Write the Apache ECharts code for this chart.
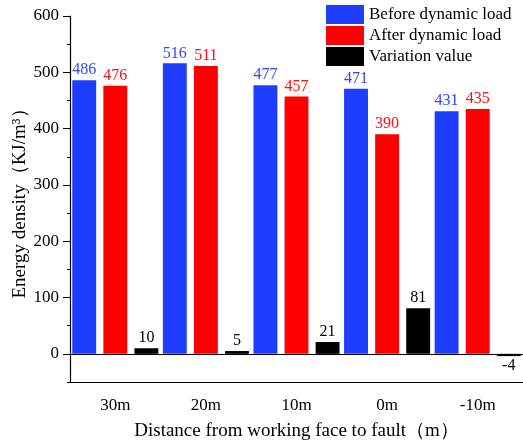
<!DOCTYPE html>
<html>
<head>
<meta charset="utf-8">
<script src="https://cdn.jsdelivr.net/npm/echarts@6/dist/echarts.min.js"></script>
<style>
  html, body { margin: 0; padding: 0; background: #fff; }
  #chart { width: 523px; height: 443px; }
</style>
</head>
<body>
<div id="chart"></div>
<script>
const categories = ['30m', '20m', '10m', '0m', '-10m']
const beforeLoad = [486, 516, 477, 471, 431]
const afterLoad = [476, 511, 457, 390, 435]
const variation = [10, 5, 21, 81, -4]
const majorTicks = [0, 100, 200, 300, 400, 500, 600]
const minorTicks = [-50, 50, 150, 250, 350, 450, 550]

const font = 'Liberation Serif'
const chart = echarts.init(document.getElementById('chart'))

const barLabel = (color) => ({
  show: true,
  position: 'top',
  distance: 2,
  color: color,
  fontFamily: font,
  fontSize: 16
})

chart.setOption({
  animation: false,
  textStyle: { fontFamily: font },
  legend: {
    orient: 'vertical',
    left: 326,
    top: 5,
    itemWidth: 38,
    itemHeight: 19,
    itemGap: 2,
    icon: 'rect',
    backgroundColor: '#fff',
    padding: 0,
    textStyle: { fontFamily: font, fontSize: 17, color: '#000' },
    data: ['Before dynamic load', 'After dynamic load', 'Variation value']
  },
  grid: { left: 70, right: 0, top: 16, bottom: 61, outerBoundsMode: 'none', containLabel: false },
  xAxis: [{
    type: 'category',
    data: categories,
    name: 'Distance from working face to fault（m）',
    nameLocation: 'middle',
    nameGap: 40,
    nameMoveOverlap: false,
    nameTextStyle: { fontFamily: font, fontSize: 19, color: '#000' },
    axisLine: { onZero: false, lineStyle: { color: '#000', width: 1.2 } },
    axisTick: { alignWithLabel: true, length: 6, lineStyle: { color: '#000' } },
    axisLabel: { fontFamily: font, fontSize: 17, color: '#000', margin: 15 }
  }, {
    type: 'category',
    data: categories,
    position: 'bottom',
    axisLine: { show: false, onZero: false },
    axisTick: { length: 3, lineStyle: { color: '#000' } },
    axisLabel: { show: false }
  }],
  yAxis: [{
    type: 'value',
    min: -50,
    max: 600,
    name: 'Energy density（KJ/m³）',
    nameLocation: 'middle',
    nameGap: 40,
    nameMoveOverlap: false,
    nameRotate: 90,
    nameTextStyle: { fontFamily: font, fontSize: 19, color: '#000' },
    splitLine: { show: false },
    axisLine: { show: true, lineStyle: { color: '#000', width: 1.2 } },
    axisTick: { show: true, length: 7, customValues: majorTicks, lineStyle: { color: '#000' } },
    axisLabel: { fontFamily: font, fontSize: 17, color: '#000', margin: 11, customValues: majorTicks }
  }, {
    type: 'value',
    min: -50,
    max: 600,
    position: 'left',
    splitLine: { show: false },
    axisLine: { show: false },
    axisTick: { show: true, length: 3, customValues: minorTicks, lineStyle: { color: '#000' } },
    axisLabel: { show: false }
  }],
  series: [{
    name: 'Before dynamic load',
    type: 'bar',
    data: beforeLoad,
    barGap: '30%',
    barCategoryGap: '5%',
    itemStyle: { color: '#1f3dff' },
    label: barLabel('#3346ff')
  }, {
    name: 'After dynamic load',
    type: 'bar',
    data: afterLoad,
    itemStyle: { color: '#ff0000' },
    label: barLabel('#ff1010')
  }, {
    name: 'Variation value',
    type: 'bar',
    data: variation.map(v => v < 0 ? { value: v, label: { position: 'bottom' } } : v),
    itemStyle: { color: '#000' },
    label: barLabel('#000'),
    markLine: {
      silent: true,
      symbol: 'none',
      label: { show: false },
      lineStyle: { color: '#000', type: 'solid', width: 1.2 },
      data: [{ yAxis: 0 }]
    }
  }]
})
</script>
</body>
</html>
